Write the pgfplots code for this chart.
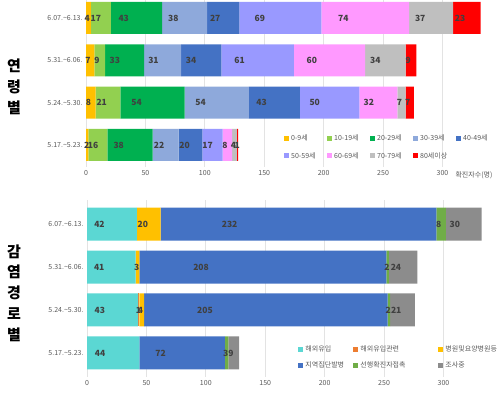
\documentclass[border=0pt]{standalone}
\usepackage{fontspec}
\setmainfont{Noto Sans CJK KR}
\usepackage{pgfplots}
\pgfplotsset{compat=1.18}
\definecolor{c09}{HTML}{FFC000}
\definecolor{c10}{HTML}{92D050}
\definecolor{c20}{HTML}{00B050}
\definecolor{c30}{HTML}{8EA9DB}
\definecolor{c40}{HTML}{4472C4}
\definecolor{c50}{HTML}{9999FF}
\definecolor{c60}{HTML}{FF99FF}
\definecolor{c70}{HTML}{BFBFBF}
\definecolor{c80}{HTML}{FF0000}
\definecolor{r1}{HTML}{5BD7D3}
\definecolor{r2}{HTML}{ED7D31}
\definecolor{r3}{HTML}{FFC000}
\definecolor{r4}{HTML}{4472C4}
\definecolor{r5}{HTML}{70AD47}
\definecolor{r6}{HTML}{8C8C8C}
\definecolor{tickgray}{HTML}{595959}
\definecolor{labgray}{HTML}{404040}
\definecolor{gridgray}{HTML}{E3E3E3}
\pgfplotsset{
  mybar/.style={
    xbar stacked, scale only axis, width=404pt, xmin=0, xmax=340,
    xtick={0,50,...,300}, ytick={0,1,2,3},
    yticklabels={5.17.\textasciitilde5.23., 5.24.\textasciitilde5.30., 5.31.\textasciitilde6.06., 6.07.\textasciitilde6.13.},
    xmajorgrids, grid style={draw=gridgray, line width=0.7pt},
    axis line style={draw=none}, major tick length=0pt,
    tick label style={font=\fontsize{7}{8}\selectfont, text=tickgray},
    /pgf/number format/assume math mode=true,
    point meta=rawx,
    nodes near coords={\pgfmathfloatifflags{\pgfplotspointmeta}{0}{}{\pgfmathprintnumber{\pgfplotspointmeta}}},
    visualization depends on=rawx \as \rawx,
    every node near coord/.append style={anchor=center, shift={(axis direction cs:-\rawx/4,0)}, font=\fontsize{8.5}{9}\selectfont\bfseries, text=labgray},
    legend cell align=left,
    legend image code/.code={\fill[##1] (0pt,-2.5pt) rectangle (5pt,2.5pt);},
  },
}
\begin{document}
\begin{tikzpicture}
\path[use as bounding box] (0pt,0pt) rectangle (500pt,392pt);
% ---------- top chart (age) ----------
\begin{axis}[mybar, at={(86pt,225pt)}, anchor=south west, height=167pt,
  ymin=-0.52, ymax=3.425, bar width=32pt,
  legend columns=5,
  legend style={at={(rel axis cs:0.49,0.205)}, anchor=north west, draw=none, fill=none,
    font=\fontsize{7}{8}\selectfont, text=tickgray, inner sep=0pt, row sep=6pt,
    /tikz/every even column/.append style={column sep=0pt}},
]
\addplot[fill=c09, draw=none] coordinates {(2,0) (8,1) (7,2) (4,3)};
\addlegendentry{\makebox[34pt][l]{0-9세}}
\addplot[fill=c10, draw=none] coordinates {(16,0) (21,1) (9,2) (17,3)};
\addlegendentry{\makebox[34pt][l]{10-19세}}
\addplot[fill=c20, draw=none] coordinates {(38,0) (54,1) (33,2) (43,3)};
\addlegendentry{\makebox[34pt][l]{20-29세}}
\addplot[fill=c30, draw=none] coordinates {(22,0) (54,1) (31,2) (38,3)};
\addlegendentry{\makebox[34pt][l]{30-39세}}
\addplot[fill=c40, draw=none] coordinates {(20,0) (43,1) (34,2) (27,3)};
\addlegendentry{\makebox[34pt][l]{40-49세}}
\addplot[fill=c50, draw=none] coordinates {(17,0) (50,1) (61,2) (69,3)};
\addlegendentry{\makebox[34pt][l]{50-59세}}
\addplot[fill=c60, draw=none] coordinates {(8,0) (32,1) (60,2) (74,3)};
\addlegendentry{\makebox[34pt][l]{60-69세}}
\addplot[fill=c70, draw=none] coordinates {(4,0) (7,1) (34,2) (37,3)};
\addlegendentry{\makebox[34pt][l]{70-79세}}
\addplot[fill=c80, draw=none] coordinates {(1,0) (7,1) (9,2) (23,3)};
\addlegendentry{\makebox[34pt][l]{80세이상}}
\end{axis}
\node[anchor=west, font=\fontsize{7}{8}\selectfont, text=tickgray] at (452pt,217pt) {확진자수(명)};
% ---------- bottom chart (route) ----------
\begin{axis}[mybar, at={(87pt,15pt)}, anchor=south west, height=177pt,
  ymin=-0.56, ymax=3.56, bar width=33pt,
  legend columns=3,
  legend style={at={(rel axis cs:0.523,0.19)}, anchor=north west, draw=none, fill=none,
    font=\fontsize{7}{8}\selectfont, text=tickgray, inner sep=0pt, row sep=5pt,
    /tikz/every even column/.append style={column sep=0pt}},
]
\addplot[fill=r1, draw=none] coordinates {(44,0) (43,1) (41,2) (42,3)};
\addlegendentry{\makebox[46pt][l]{해외유입}}
\addplot[fill=r2, draw=none] coordinates {(0,0) (1,1) (0,2) (0,3)};
\addlegendentry{\makebox[76pt][l]{해외유입관련}}
\addplot[fill=r3, draw=none] coordinates {(0,0) (4,1) (3,2) (20,3)};
\addlegendentry{병원및요양병원등}
\addplot[fill=r4, draw=none] coordinates {(72,0) (205,1) (208,2) (232,3)};
\addlegendentry{\makebox[46pt][l]{지역집단발병}}
\addplot[fill=r5, draw=none] coordinates {(3,0) (2,1) (2,2) (8,3)};
\addlegendentry{\makebox[76pt][l]{선행확진자접촉}}
\addplot[fill=r6, draw=none] coordinates {(9,0) (21,1) (24,2) (30,3)};
\addlegendentry{조사중}
\end{axis}
% ---------- side titles ----------
\node[align=center, font=\fontsize{15}{21}\selectfont\bfseries] at (14pt,305pt) {연\\령\\별};
\node[align=center, font=\fontsize{15}{20.7}\selectfont\bfseries] at (14pt,99pt) {감\\염\\경\\로\\별};
\end{tikzpicture}
\end{document}
